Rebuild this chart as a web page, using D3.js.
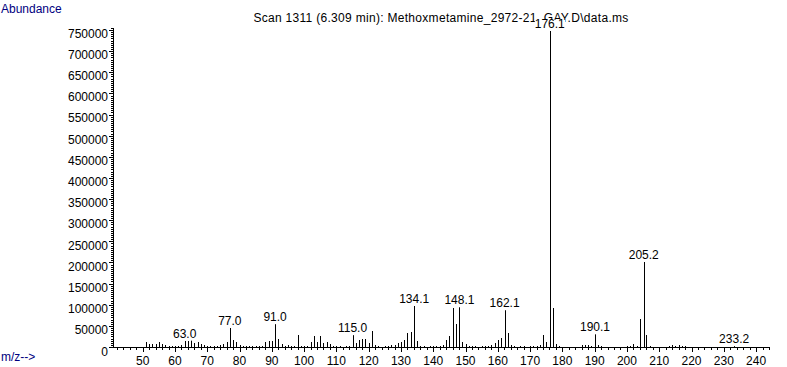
<!DOCTYPE html>
<html><head><meta charset="utf-8">
<script src="https://cdn.jsdelivr.net/npm/d3@7"></script>
<style>
html,body{margin:0;padding:0;background:#fff;}
svg{display:block;}
text{font-family:"Liberation Sans",Arial,sans-serif;font-size:12px;}
</style></head>
<body>
<svg id="chart" width="787" height="367"></svg>
<script>
const titleText = "Scan 1311 (6.309 min): Methoxmetamine_2972-21_GAY.D\\data.ms";
const yTickValues = d3.range(0, 750001, 50000);
const xTickValues = d3.range(50, 241, 10);
const mzValues = [51,52,53,54,55,56,57,58,59,60,61,62,63.0,64,65,66,67,68,69,70,71,72,73,74,75,76,77.0,78,79,80,81,82,83,84,85,86,87,88,89,90,91.0,92,93,94,95,96,97,98,99,100,101,102,103,104,105,106,107,108,109,110,111,113,114,115.0,116,117,118,119,120,121,122,123,125,126,127,128,129,130,131,132,133,134.1,135,136,137,139,140,141,142,143,144,145,146,147,148.1,149,150,151,152,153,155,156,157,158,159,160,161,162.1,163,164,165,167,168,170,171,172,173,174,175,176.1,177,178,179,186,187,188,189,190.1,191,192,200,201,202,203,204,205.2,206,207,213,214,215,216,217,218,233.2];
const abundance = [12000,6000,6000,8000,12000,7000,4000,2000,2000,2000,3000,5000,15000,15000,19000,9000,13000,6000,5000,2000,3000,2000,2000,4000,7000,13000,45000,17000,12000,5000,3000,2000,2000,1500,1500,2000,3000,11000,15000,15000,54000,20000,6000,3000,4000,3000,2000,28000,3000,2000,3000,13000,25000,13000,25000,9000,13000,6000,3000,2000,1500,2000,3000,28000,9000,16000,19000,19000,9000,39000,4000,2000,2000,3000,5000,4000,9000,12000,16000,32000,36000,98000,14000,3000,2000,2000,2000,3000,2000,5000,16000,26000,92000,54000,94000,11000,8000,2000,2000,2000,2000,2000,3000,5000,9000,16000,21000,87000,34000,4000,3000,2000,2000,2000,2000,3000,4000,28000,12000,748000,92000,7000,2000,5000,4000,5000,3000,30000,5000,2000,2000,3000,7000,3000,66000,202000,28000,3000,2000,5000,3000,5000,3000,2000,2000];
const labeledMz = [63.0,77.0,91.0,115.0,134.1,148.1,162.1,176.1,190.1,205.2,233.2];

const svg = d3.select("#chart");
const x = d3.scaleLinear().domain([40.8, 244]).range([113, 769]);
const y = d3.scaleLinear().domain([0, 750000]).range([347, 30]);
const yLabel = d3.scaleLinear().domain([0, 750000]).range([355.5, 37.5]);

const peaks = mzValues.map((m, i) => ({mz: m, ab: abundance[i]}));

// x axis
const gx = svg.append("g").attr("shape-rendering", "crispEdges");
gx.append("line").attr("x1", 113).attr("x2", 769).attr("y1", 347.5).attr("y2", 347.5).attr("stroke", "#000");
gx.selectAll("line.minor").data(d3.range(42, 245, 2)).enter().append("line")
  .attr("x1", d => Math.round(x(d)) + 0.5).attr("x2", d => Math.round(x(d)) + 0.5)
  .attr("y1", 347).attr("y2", d => d % 10 === 0 ? 352 : 350).attr("stroke", "#000");
gx.selectAll("text").data(xTickValues).enter().append("text")
  .attr("x", d => x(d)).attr("y", 365).attr("text-anchor", "middle").text(d => d);

// y axis
const gy = svg.append("g").attr("shape-rendering", "crispEdges");
gy.append("line").attr("x1", 113.5).attr("x2", 113.5).attr("y1", 28).attr("y2", 347).attr("stroke", "#000");
gy.selectAll("line.minor").data(d3.range(0, 755001, 5000)).enter().append("line")
  .attr("x1", 111).attr("x2", 113.5)
  .attr("y1", d => Math.round(y(d)) + 0.5).attr("y2", d => Math.round(y(d)) + 0.5)
  .attr("stroke", "#000").attr("stroke-width", 1);
gy.selectAll("line.major").data(yTickValues).enter().append("line")
  .attr("x1", 109).attr("x2", 113)
  .attr("y1", d => Math.round(y(d)) + 0.5).attr("y2", d => Math.round(y(d)) + 0.5)
  .attr("stroke", "#000");
gy.selectAll("text").data(yTickValues).enter().append("text")
  .attr("x", 108).attr("y", d => yLabel(d)).attr("text-anchor", "end").text(d => d);

// title
svg.append("text").attr("x", 441).attr("y", 22).attr("text-anchor", "middle")
  .attr("letter-spacing", "0.3px").text(titleText);
svg.append("text").attr("x", 1).attr("y", 13).attr("fill", "#000080").text("Abundance");
svg.append("text").attr("x", 1).attr("y", 361).attr("fill", "#000080").text("m/z-->");

// peaks
svg.append("g").attr("shape-rendering", "crispEdges").selectAll("line").data(peaks).enter().append("line")
  .attr("x1", d => Math.round(x(d.mz)) + 0.5).attr("x2", d => Math.round(x(d.mz)) + 0.5)
  .attr("y1", 347).attr("y2", d => y(d.ab)).attr("stroke", "#000");

// peak labels
const lab = svg.append("g").selectAll("g").data(peaks.filter(p => labeledMz.includes(p.mz))).enter().append("g");
lab.each(function(d) {
  const g = d3.select(this);
  const t = g.append("text").attr("x", x(d.mz)).attr("y", y(d.ab) - 3).attr("text-anchor", "middle").text(d3.format(".1f")(d.mz));
  const bb = t.node().getBBox();
  g.insert("rect", "text").attr("x", bb.x).attr("y", bb.y + 3).attr("width", bb.width).attr("height", bb.height - 3).attr("fill", "#fff");
});
</script>
</body></html>
